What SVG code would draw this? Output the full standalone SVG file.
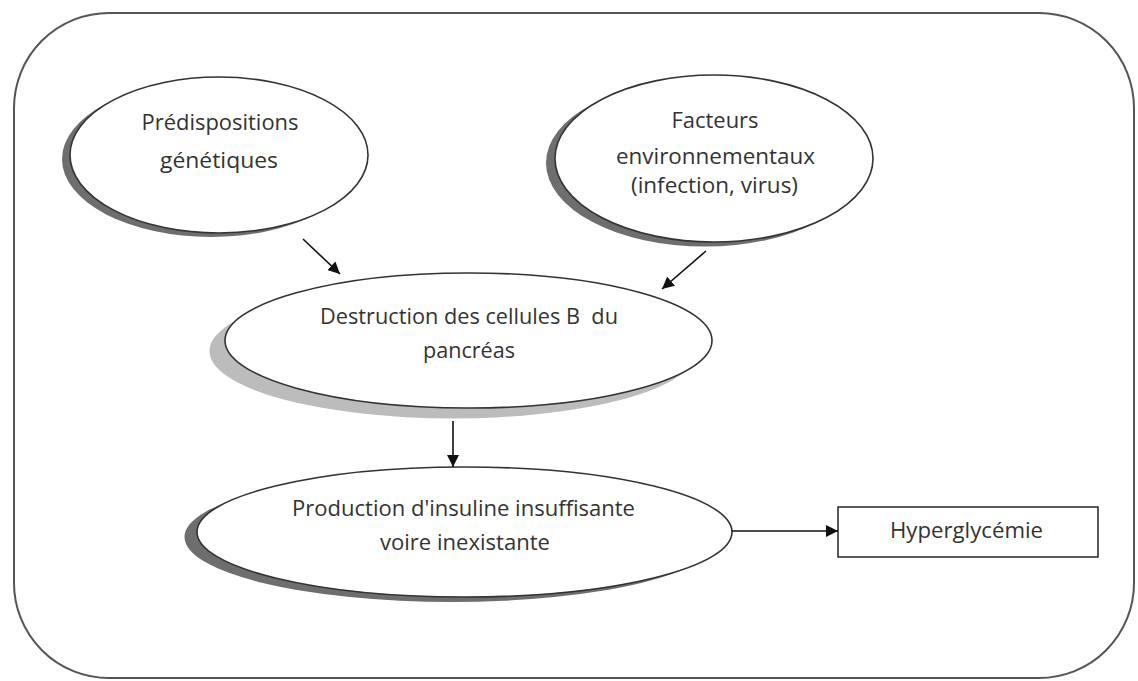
<svg xmlns="http://www.w3.org/2000/svg" width="1138" height="681" viewBox="0 0 1138 681">
  <defs>
    <marker id="arrow" viewBox="0 0 10 10" refX="10" refY="5" markerWidth="12" markerHeight="12" markerUnits="userSpaceOnUse" orient="auto">
      <path d="M0,0 L10,5 L0,10 z" fill="#111"/>
    </marker>
  </defs>
  <style>
    .frame { fill: #ffffff; stroke: #555; stroke-width: 2; }
    .node { fill: #ffffff; stroke: #333; stroke-width: 1.6; }
    .shadow-dark { fill: #6e6e6e; }
    .shadow-light { fill: #bcbcbc; }
    .box { fill: #ffffff; stroke: #333; stroke-width: 1.6; }
    .lbl { font-family: "Open Sans", "Liberation Sans", sans-serif; font-size: 22px; fill: #333; text-anchor: middle; }
    .conn { stroke: #111; stroke-width: 1.6; fill: none; marker-end: url(#arrow); }
  </style>
  <rect width="1138" height="681" fill="#ffffff"/>
  <rect class="frame" x="14" y="13" width="1120" height="665" rx="95" ry="95"/>

  <g id="node-predispositions">
    <ellipse class="shadow-dark" cx="211" cy="159" rx="149" ry="78"/>
    <ellipse class="node" cx="219" cy="155" rx="149" ry="78"/>
    <text class="lbl" x="220" y="130" textLength="157" lengthAdjust="spacingAndGlyphs">Prédispositions</text>
    <text class="lbl" x="219" y="168" textLength="118" lengthAdjust="spacingAndGlyphs">génétiques</text>
  </g>

  <g id="node-facteurs">
    <ellipse class="shadow-dark" cx="705" cy="163" rx="159" ry="83.5"/>
    <ellipse class="node" cx="714" cy="158.5" rx="159" ry="83.5"/>
    <text class="lbl" x="715" y="128" textLength="87" lengthAdjust="spacingAndGlyphs">Facteurs</text>
    <text class="lbl" x="715.5" y="164" textLength="199" lengthAdjust="spacingAndGlyphs">environnementaux</text>
    <text class="lbl" x="714.5" y="193" textLength="167" lengthAdjust="spacingAndGlyphs">(infection, virus)</text>
  </g>

  <g id="node-destruction">
    <ellipse class="shadow-light" cx="453" cy="351" rx="243.5" ry="67.5"/>
    <ellipse class="node" cx="468.5" cy="340.5" rx="243.5" ry="67.5"/>
    <text class="lbl" x="469" y="324" textLength="298" lengthAdjust="spacingAndGlyphs" xml:space="preserve">Destruction des cellules B  du</text>
    <text class="lbl" x="469" y="358" textLength="92" lengthAdjust="spacingAndGlyphs">pancréas</text>
  </g>

  <g id="node-production">
    <ellipse class="shadow-dark" cx="452" cy="537" rx="267.5" ry="65"/>
    <ellipse class="node" cx="464.5" cy="532" rx="267.5" ry="65"/>
    <text class="lbl" x="463.5" y="516" textLength="343" lengthAdjust="spacingAndGlyphs">Production d'insuline insuffisante</text>
    <text class="lbl" x="465" y="550" textLength="170" lengthAdjust="spacingAndGlyphs">voire inexistante</text>
  </g>

  <g id="node-hyperglycemie">
    <rect class="box" x="838" y="507" width="260" height="50"/>
    <text class="lbl" x="966.5" y="538" textLength="153" lengthAdjust="spacingAndGlyphs">Hyperglycémie</text>
  </g>

  <g id="connectors">
    <line class="conn" x1="303" y1="239" x2="340" y2="274"/>
    <line class="conn" x1="706" y1="251" x2="662" y2="289"/>
    <line class="conn" x1="453" y1="421" x2="453" y2="467"/>
    <line class="conn" x1="732" y1="531" x2="838" y2="531"/>
  </g>
</svg>
